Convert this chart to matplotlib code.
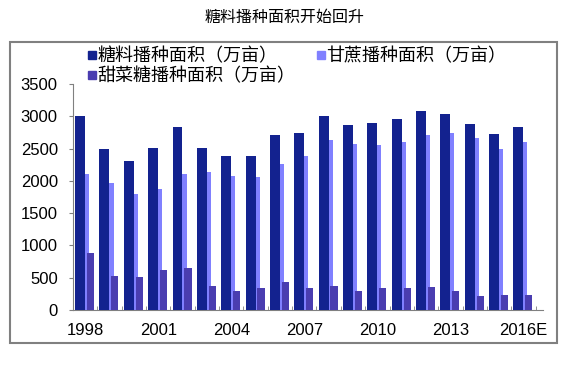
import matplotlib

matplotlib.use("Agg")
import matplotlib.pyplot as plt
import numpy as np
from matplotlib.lines import Line2D
from matplotlib.patches import Rectangle

years = ["1998", "1999", "2000", "2001", "2002", "2003", "2004", "2005", "2006", "2007",
         "2008", "2009", "2010", "2011", "2012", "2013", "2014", "2015", "2016E"]
sugar_total = [3010, 2500, 2300, 2510, 2840, 2510, 2385, 2385, 2710, 2740,
               3010, 2860, 2900, 2950, 3080, 3030, 2880, 2730, 2840]
sugarcane = [2110, 1970, 1800, 1880, 2110, 2130, 2080, 2055, 2260, 2390,
             2630, 2570, 2560, 2600, 2715, 2745, 2660, 2500, 2600]
sugarbeet = [890, 525, 510, 625, 650, 380, 295, 335, 440, 335,
             380, 295, 345, 345, 365, 290, 215, 230, 230]
tick_labels = ["1998", "2001", "2004", "2007", "2010", "2013", "2016E"]

c_total = "#13228F"
c_cane = "#8080FF"
c_beet = "#4A3DB0"

cjk = ["Noto Sans CJK SC", "DejaVu Sans"]
plt.rcParams["font.family"] = ["Liberation Sans", "DejaVu Sans"]

fig = plt.figure(figsize=(5.8, 3.71), dpi=100)
ax = fig.add_axes([0.126, 0.164, 0.81, 0.61])

x = np.arange(len(years))
ax.bar(x, sugarcane, width=0.33, color=c_cane, zorder=2)
ax.bar(x - 0.21, sugar_total, width=0.41, color=c_total, zorder=3)
ax.bar(x + 0.22, sugarbeet, width=0.29, color=c_beet, zorder=3)

ax.set_xlim(-0.5, len(years) - 0.2)
ax.set_ylim(0, 3500)
ax.set_yticks(np.arange(0, 3501, 500))
ax.set_xticks([years.index(t) for t in tick_labels])
ax.set_xticklabels(tick_labels)
ax.set_xticks(np.arange(-0.5, len(years), 1), minor=True)
ax.tick_params(axis="x", which="major", length=0, labelsize=12, pad=9)
ax.tick_params(axis="x", which="minor", direction="in", length=3, color="#808080")
ax.tick_params(axis="y", length=3, color="#808080", labelsize=12, pad=8)
for side in ("top", "right"):
    ax.spines[side].set_visible(False)
for side in ("left", "bottom"):
    ax.spines[side].set_color("#808080")
    ax.spines[side].set_linewidth(0.8)

# legend: row 1 total + sugarcane, row 2 sugarbeet
handles = [
    Line2D([], [], marker="s", linestyle="", color=c_total, markersize=5.5),
    Line2D([], [], marker="s", linestyle="", color=c_beet, markersize=5.5),
    Line2D([], [], marker="s", linestyle="", color=c_cane, markersize=5.5),
]
labels = ["糖料播种面积（万亩）", "甜菜糖播种面积（万亩）", "甘蔗播种面积（万亩）"]
fig.legend(handles, labels, loc="upper left", bbox_to_anchor=(0.137, 0.893), ncol=2,
           frameon=False, prop={"family": cjk, "size": 13}, handletextpad=0.0,
           handlelength=0.6, labelspacing=0.12, columnspacing=1.1, borderaxespad=0)

fig.text(0.49, 0.952, "糖料播种面积开始回升", ha="center", va="center",
         family=cjk, fontsize=11.5)

fig.patches.append(Rectangle((0.017, 0.0755), 0.943, 0.812, transform=fig.transFigure,
                             fill=False, edgecolor="#808080", linewidth=1.5))

fig.savefig("out.png", dpi=100)
